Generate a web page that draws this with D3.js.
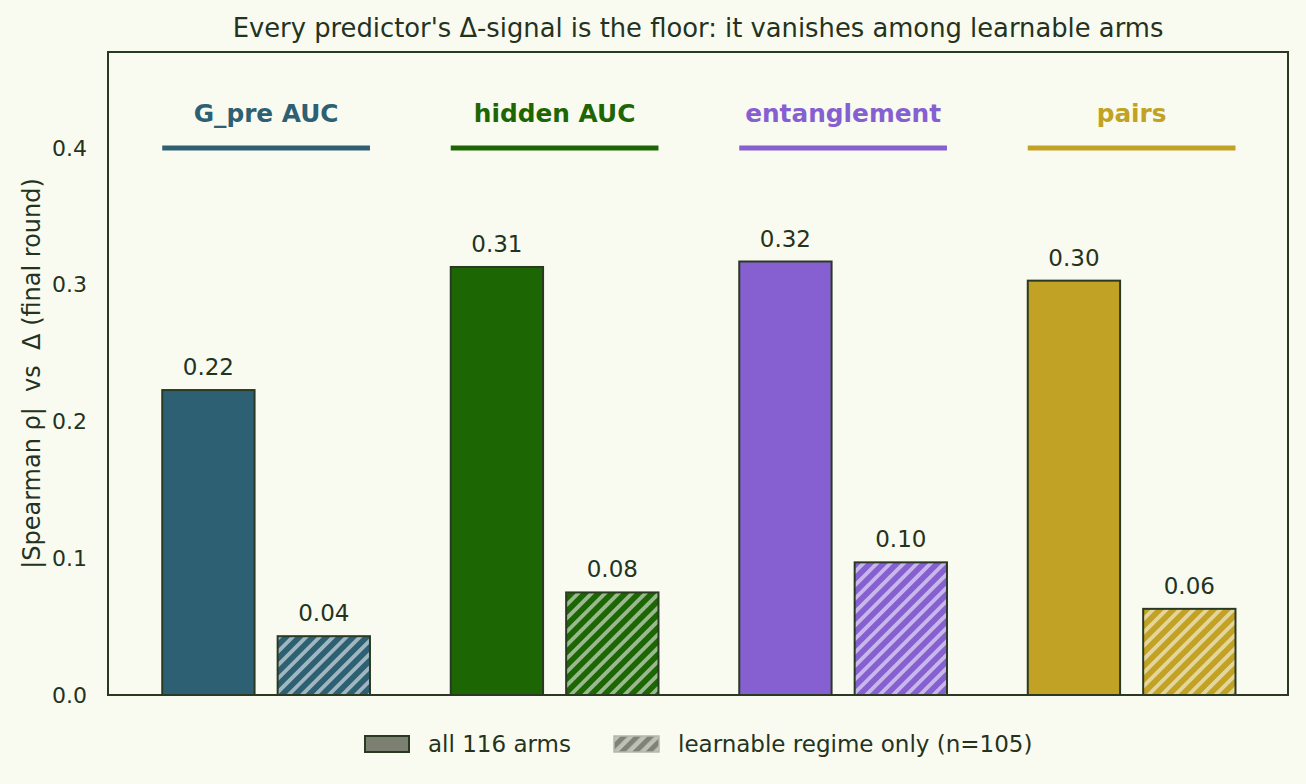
<!DOCTYPE html>
<html><head><meta charset="utf-8">
<script src="https://cdn.jsdelivr.net/npm/d3@7"></script>
<style>body{margin:0;background:#fafbf0;font-family:"DejaVu Sans",sans-serif;}</style>
</head><body><svg id="c" width="1306" height="784"></svg>
<script>
const predictors = ["G_pre AUC", "hidden AUC", "entanglement", "pairs"];
const colors = ["#2d6073", "#1d6604", "#8660d0", "#c1a224"];
const allArms = [0.223, 0.313, 0.317, 0.303];
const learnable = [0.043, 0.075, 0.097, 0.063];
const allLabels = ["0.22", "0.31", "0.32", "0.30"];
const learnLabels = ["0.04", "0.08", "0.10", "0.06"];
const yTicks = [0.0, 0.1, 0.2, 0.3, 0.4];
const seriesNames = ["all 116 arms", "learnable regime only (n=105)"];

const svg = d3.select("#c");
const ink = "#24331e", edge = "#2a3a22";
const L = 108, R = 1288, T = 52, B = 695;
const x = d3.scaleLinear().domain([-0.548, 3.542]).range([L, R]);
const y = d3.scaleLinear().domain([0, 0.4]).range([B, 148]);
const bw = x(0.32) - x(0);
const off = 0.2;

const defs = svg.append("defs");
colors.forEach((c, i) => {
  const p = defs.append("pattern").attr("id", "h" + i).attr("patternUnits", "userSpaceOnUse")
    .attr("width", 9.5).attr("height", 9.5).attr("patternTransform", "rotate(45)");
  p.append("rect").attr("width", 9.5).attr("height", 9.5).attr("fill", c);
  p.append("rect").attr("x", 0).attr("width", 3.8).attr("height", 9.5).attr("fill", "rgba(255,255,255,0.55)");
});
{
  const p = defs.append("pattern").attr("id", "hleg").attr("patternUnits", "userSpaceOnUse")
    .attr("width", 9.5).attr("height", 9.5).attr("patternTransform", "rotate(45)");
  p.append("rect").attr("width", 9.5).attr("height", 9.5).attr("fill", "#bfc1b6");
  p.append("rect").attr("x", 0).attr("width", 5).attr("height", 9.5).attr("fill", "#7f8376");
}

svg.append("rect").attr("width", 1306).attr("height", 784).attr("fill", "#fafbf0");

// title
svg.append("text").attr("x", (L + R) / 2).attr("y", 37).attr("text-anchor", "middle")
  .attr("font-size", 25.8).attr("fill", ink)
  .text("Every predictor's Δ-signal is the floor: it vanishes among learnable arms");

// y axis
const ya = svg.append("g").attr("transform", `translate(${L},0)`)
  .call(d3.axisLeft(y).tickValues(yTicks).tickFormat(d3.format(".1f")).tickSize(0).tickPadding(21));
ya.select(".domain").remove();
ya.selectAll("text").attr("font-size", 22).attr("fill", ink).attr("font-family", "DejaVu Sans");

svg.append("text").attr("transform", `translate(40,${(T + B) / 2}) rotate(-90)`)
  .attr("text-anchor", "middle").attr("font-size", 24).attr("fill", ink)
  .attr("xml:space", "preserve")
  .text("|Spearman ρ|  vs  Δ (final round)");

// bars
predictors.forEach((p, i) => {
  const x0 = x(i - off) - bw / 2, x1 = x(i + off) - bw / 2;
  svg.append("rect").attr("x", x0).attr("y", y(allArms[i])).attr("width", bw)
    .attr("height", y(0) - y(allArms[i])).attr("fill", colors[i]).attr("stroke", edge).attr("stroke-width", 2);
  svg.append("rect").attr("x", x1).attr("y", y(learnable[i])).attr("width", bw)
    .attr("height", y(0) - y(learnable[i])).attr("fill", `url(#h${i})`).attr("stroke", edge).attr("stroke-width", 2);
  svg.append("text").attr("x", x(i - off)).attr("y", y(allArms[i]) - 15).attr("text-anchor", "middle")
    .attr("font-size", 23).attr("fill", ink).text(allLabels[i]);
  svg.append("text").attr("x", x(i + off)).attr("y", y(learnable[i]) - 15).attr("text-anchor", "middle")
    .attr("font-size", 23).attr("fill", ink).text(learnLabels[i]);
  // header
  svg.append("line").attr("x1", x0).attr("x2", x1 + bw).attr("y1", y(0.4)).attr("y2", y(0.4))
    .attr("stroke", colors[i]).attr("stroke-width", 5);
  svg.append("text").attr("x", x(i)).attr("y", 122).attr("text-anchor", "middle")
    .attr("font-size", 24.8).attr("font-weight", "bold").attr("fill", colors[i]).text(p);
});

// frame
svg.append("rect").attr("x", L).attr("y", T).attr("width", R - L).attr("height", B - T)
  .attr("fill", "none").attr("stroke", edge).attr("stroke-width", 2);

// legend
const lg = svg.append("g");
lg.append("rect").attr("x", 365).attr("y", 736).attr("width", 44).attr("height", 16)
  .attr("fill", "#7c8073").attr("stroke", edge).attr("stroke-width", 2);
lg.append("text").attr("x", 428).attr("y", 752).attr("font-size", 23).attr("fill", ink).text(seriesNames[0]);
lg.append("rect").attr("x", 614).attr("y", 736).attr("width", 45).attr("height", 16)
  .attr("fill", "url(#hleg)").attr("stroke", "#b5b8ac").attr("stroke-width", 1.5);
lg.append("text").attr("x", 678).attr("y", 752).attr("font-size", 23).attr("fill", ink).text(seriesNames[1]);
</script></body></html>
